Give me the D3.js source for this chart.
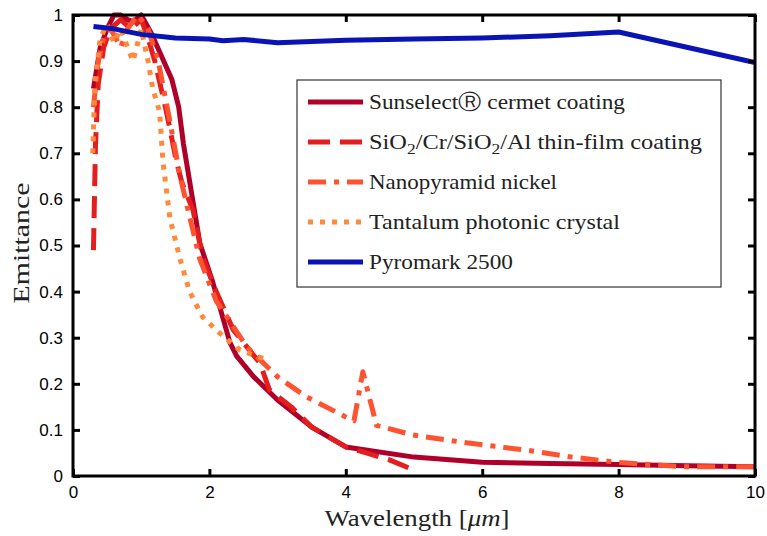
<!DOCTYPE html>
<html><head><meta charset="utf-8">
<script src="https://cdn.jsdelivr.net/npm/d3@7"></script>
<style>body{margin:0;background:#fff}svg{display:block}</style>
</head><body><svg id="c" width="767" height="536"></svg>
<script>
// ---- data ----
const sunselectX = [0.3,0.4,0.5,0.6,0.7,0.8,0.88,1.0,1.15,1.3,1.45,1.55,1.62,1.86,2.05,2.3,2.4,2.65,3.0,3.5,4.0,5.0,6.0,7.0,8.0,9.0,10.0];
const sunselectY = [0.84,0.93,0.97,1.0,1.0,0.99,0.985,1.0,0.96,0.91,0.86,0.8,0.72,0.505,0.42,0.29,0.26,0.215,0.165,0.106,0.063,0.041,0.03,0.027,0.025,0.022,0.02];

const sio2X = [0.3,0.33,0.37,0.45,0.55,0.7,0.85,1.0,1.1,1.2,1.37,1.52,1.6,1.76,1.9,2.1,2.35,2.74,2.88,3.2,3.5,4.0,4.3,4.64,5.0];
const sio2Y = [0.49,0.72,0.85,0.93,0.97,0.99,0.97,0.99,0.95,0.9,0.79,0.68,0.635,0.577,0.475,0.40,0.317,0.245,0.187,0.15,0.106,0.063,0.05,0.035,0.013];

const nanoX = [0.3,0.37,0.45,0.55,0.7,0.8,0.95,1.1,1.25,1.42,1.57,1.86,2.1,2.55,3.0,3.42,4.0,4.12,4.25,4.45,4.98,5.77,6.65,7.32,7.96,8.55,9.0,10.0];
const nanoY = [0.8,0.9,0.95,0.97,0.93,0.97,1.0,0.97,0.9,0.77,0.65,0.47,0.38,0.28,0.215,0.172,0.128,0.12,0.226,0.11,0.089,0.072,0.056,0.041,0.03,0.024,0.02,0.02];

const tantX = [0.29,0.32,0.4,0.5,0.6,0.7,0.8,0.88,0.95,1.0,1.1,1.17,1.27,1.32,1.42,1.57,1.71,1.9,2.15,2.45,2.88];
const tantY = [0.7,0.85,0.95,0.98,0.94,0.97,0.93,0.9,0.94,0.97,0.9,0.84,0.79,0.68,0.56,0.47,0.40,0.345,0.31,0.273,0.25];

const pyroX = [0.3,0.6,1.0,1.5,2.0,2.2,2.5,3.0,4.0,5.0,6.0,7.0,8.0,9.0,10.0];
const pyroY = [0.975,0.97,0.958,0.95,0.948,0.944,0.947,0.94,0.945,0.948,0.95,0.955,0.963,0.93,0.897];

const seriesNames = ["Sunselect\u24C7 cermet coating","SiO2/Cr/SiO2/Al thin-film coating","Nanopyramid nickel","Tantalum photonic crystal","Pyromark 2500"];
const xTicks = [0,2,4,6,8,10];
const yTicks = [0,0.1,0.2,0.3,0.4,0.5,0.6,0.7,0.8,0.9,1];

// ---- styles ----
const styles = [
  {color:"#b0002a", dash:null},
  {color:"#e41e1e", dash:"22,10"},
  {color:"#ff5230", dash:"18,8,5,8"},
  {color:"#ff8a3c", dash:"5,7"},
  {color:"#0a14b4", dash:null}
];
const legendWidths = [256,333,188,251,144];
const seriesData = [
  [sunselectX,sunselectY],[sio2X,sio2Y],[nanoX,nanoY],[tantX,tantY],[pyroX,pyroY]
];

const svg = d3.select("#c");
const L=73,R=755,T=15,B=476;
const x = d3.scaleLinear().domain([0,10]).range([L,R]);
const y = d3.scaleLinear().domain([0,1]).range([B,T]);

svg.append("defs").append("clipPath").attr("id","clip")
  .append("rect").attr("x",L).attr("y",T-3).attr("width",R-L).attr("height",B-T+3);

const line = d3.line().x(d=>x(d[0])).y(d=>y(d[1]));
const g = svg.append("g").attr("clip-path","url(#clip)");
seriesData.forEach((s,i)=>{
  const pts = s[0].map((v,j)=>[v,s[1][j]]);
  g.append("path").datum(pts).attr("d",line)
    .attr("fill","none").attr("stroke",styles[i].color).attr("stroke-width",5)
    .attr("stroke-linejoin","round")
    .attr("stroke-dasharray",styles[i].dash);
});

// axes
const tickFont = "'Liberation Sans', Arial, sans-serif";
const ax = svg.append("g").attr("transform",`translate(0,${B})`)
  .call(d3.axisBottom(x).tickValues(xTicks).tickSize(-7).tickPadding(10).tickFormat(d3.format("d")));
const ay = svg.append("g").attr("transform",`translate(${L},0)`)
  .call(d3.axisLeft(y).tickValues(yTicks).tickSize(-7).tickPadding(10).tickFormat(d=>d===0||d===1?String(d):d3.format(".1f")(d)));
const axT = svg.append("g").attr("transform",`translate(0,${T})`)
  .call(d3.axisTop(x).tickValues(xTicks).tickSize(-7).tickFormat(""));
const ayR = svg.append("g").attr("transform",`translate(${R},0)`)
  .call(d3.axisRight(y).tickValues(yTicks).tickSize(-7).tickFormat(""));
[ax,ay,axT,ayR].forEach(a=>{
  a.select(".domain").remove();
  a.selectAll(".tick line").attr("stroke","#000").attr("stroke-width",3);
  a.selectAll(".tick text").attr("font-family",tickFont).attr("font-size",17).attr("fill","#000");
});
svg.append("rect").attr("x",L).attr("y",T).attr("width",R-L).attr("height",B-T)
  .attr("fill","none").attr("stroke","#000").attr("stroke-width",3);

// axis labels
const serifFont = "'Liberation Serif', serif";
const xl = svg.append("text").attr("x",(L+R)/2 + 3).attr("y",526).attr("text-anchor","middle")
  .attr("font-family",serifFont).attr("font-size",23).attr("fill","#222")
  .attr("textLength",185).attr("lengthAdjust","spacingAndGlyphs");
xl.append("tspan").text("Wavelength [");
xl.append("tspan").attr("font-style","italic").text("\u03BCm");
xl.append("tspan").text("]");
svg.append("text").attr("transform",`translate(29,${243}) rotate(-90)`).attr("text-anchor","middle")
  .attr("font-family",serifFont).attr("font-size",23).attr("fill","#222")
  .attr("textLength",121).attr("lengthAdjust","spacingAndGlyphs").text("Emittance");

// legend
const lg = svg.append("g");
lg.append("rect").attr("x",297).attr("y",80).attr("width",424).attr("height",207)
  .attr("fill","#fff").attr("stroke","#333").attr("stroke-width",1.2);
const rowY = [102,142,182,222,262];
seriesNames.forEach((n,i)=>{
  lg.append("line").attr("x1",308).attr("x2",363).attr("y1",rowY[i]).attr("y2",rowY[i])
    .attr("stroke",styles[i].color).attr("stroke-width",5)
    .attr("stroke-dasharray",styles[i].dash);
  const t = lg.append("text").attr("x",369).attr("y",rowY[i]+7)
    .attr("font-family",serifFont).attr("font-size",21).attr("fill","#222")
    .attr("textLength",legendWidths[i]).attr("lengthAdjust","spacingAndGlyphs");
  if(n.startsWith("SiO2")){
    t.append("tspan").text("SiO");
    t.append("tspan").attr("font-size",15).attr("dy",5).text("2");
    t.append("tspan").attr("dy",-5).text("/Cr/SiO");
    t.append("tspan").attr("font-size",15).attr("dy",5).text("2");
    t.append("tspan").attr("dy",-5).text("/Al thin-film coating");
  } else t.text(n);
});
</script></body></html>
